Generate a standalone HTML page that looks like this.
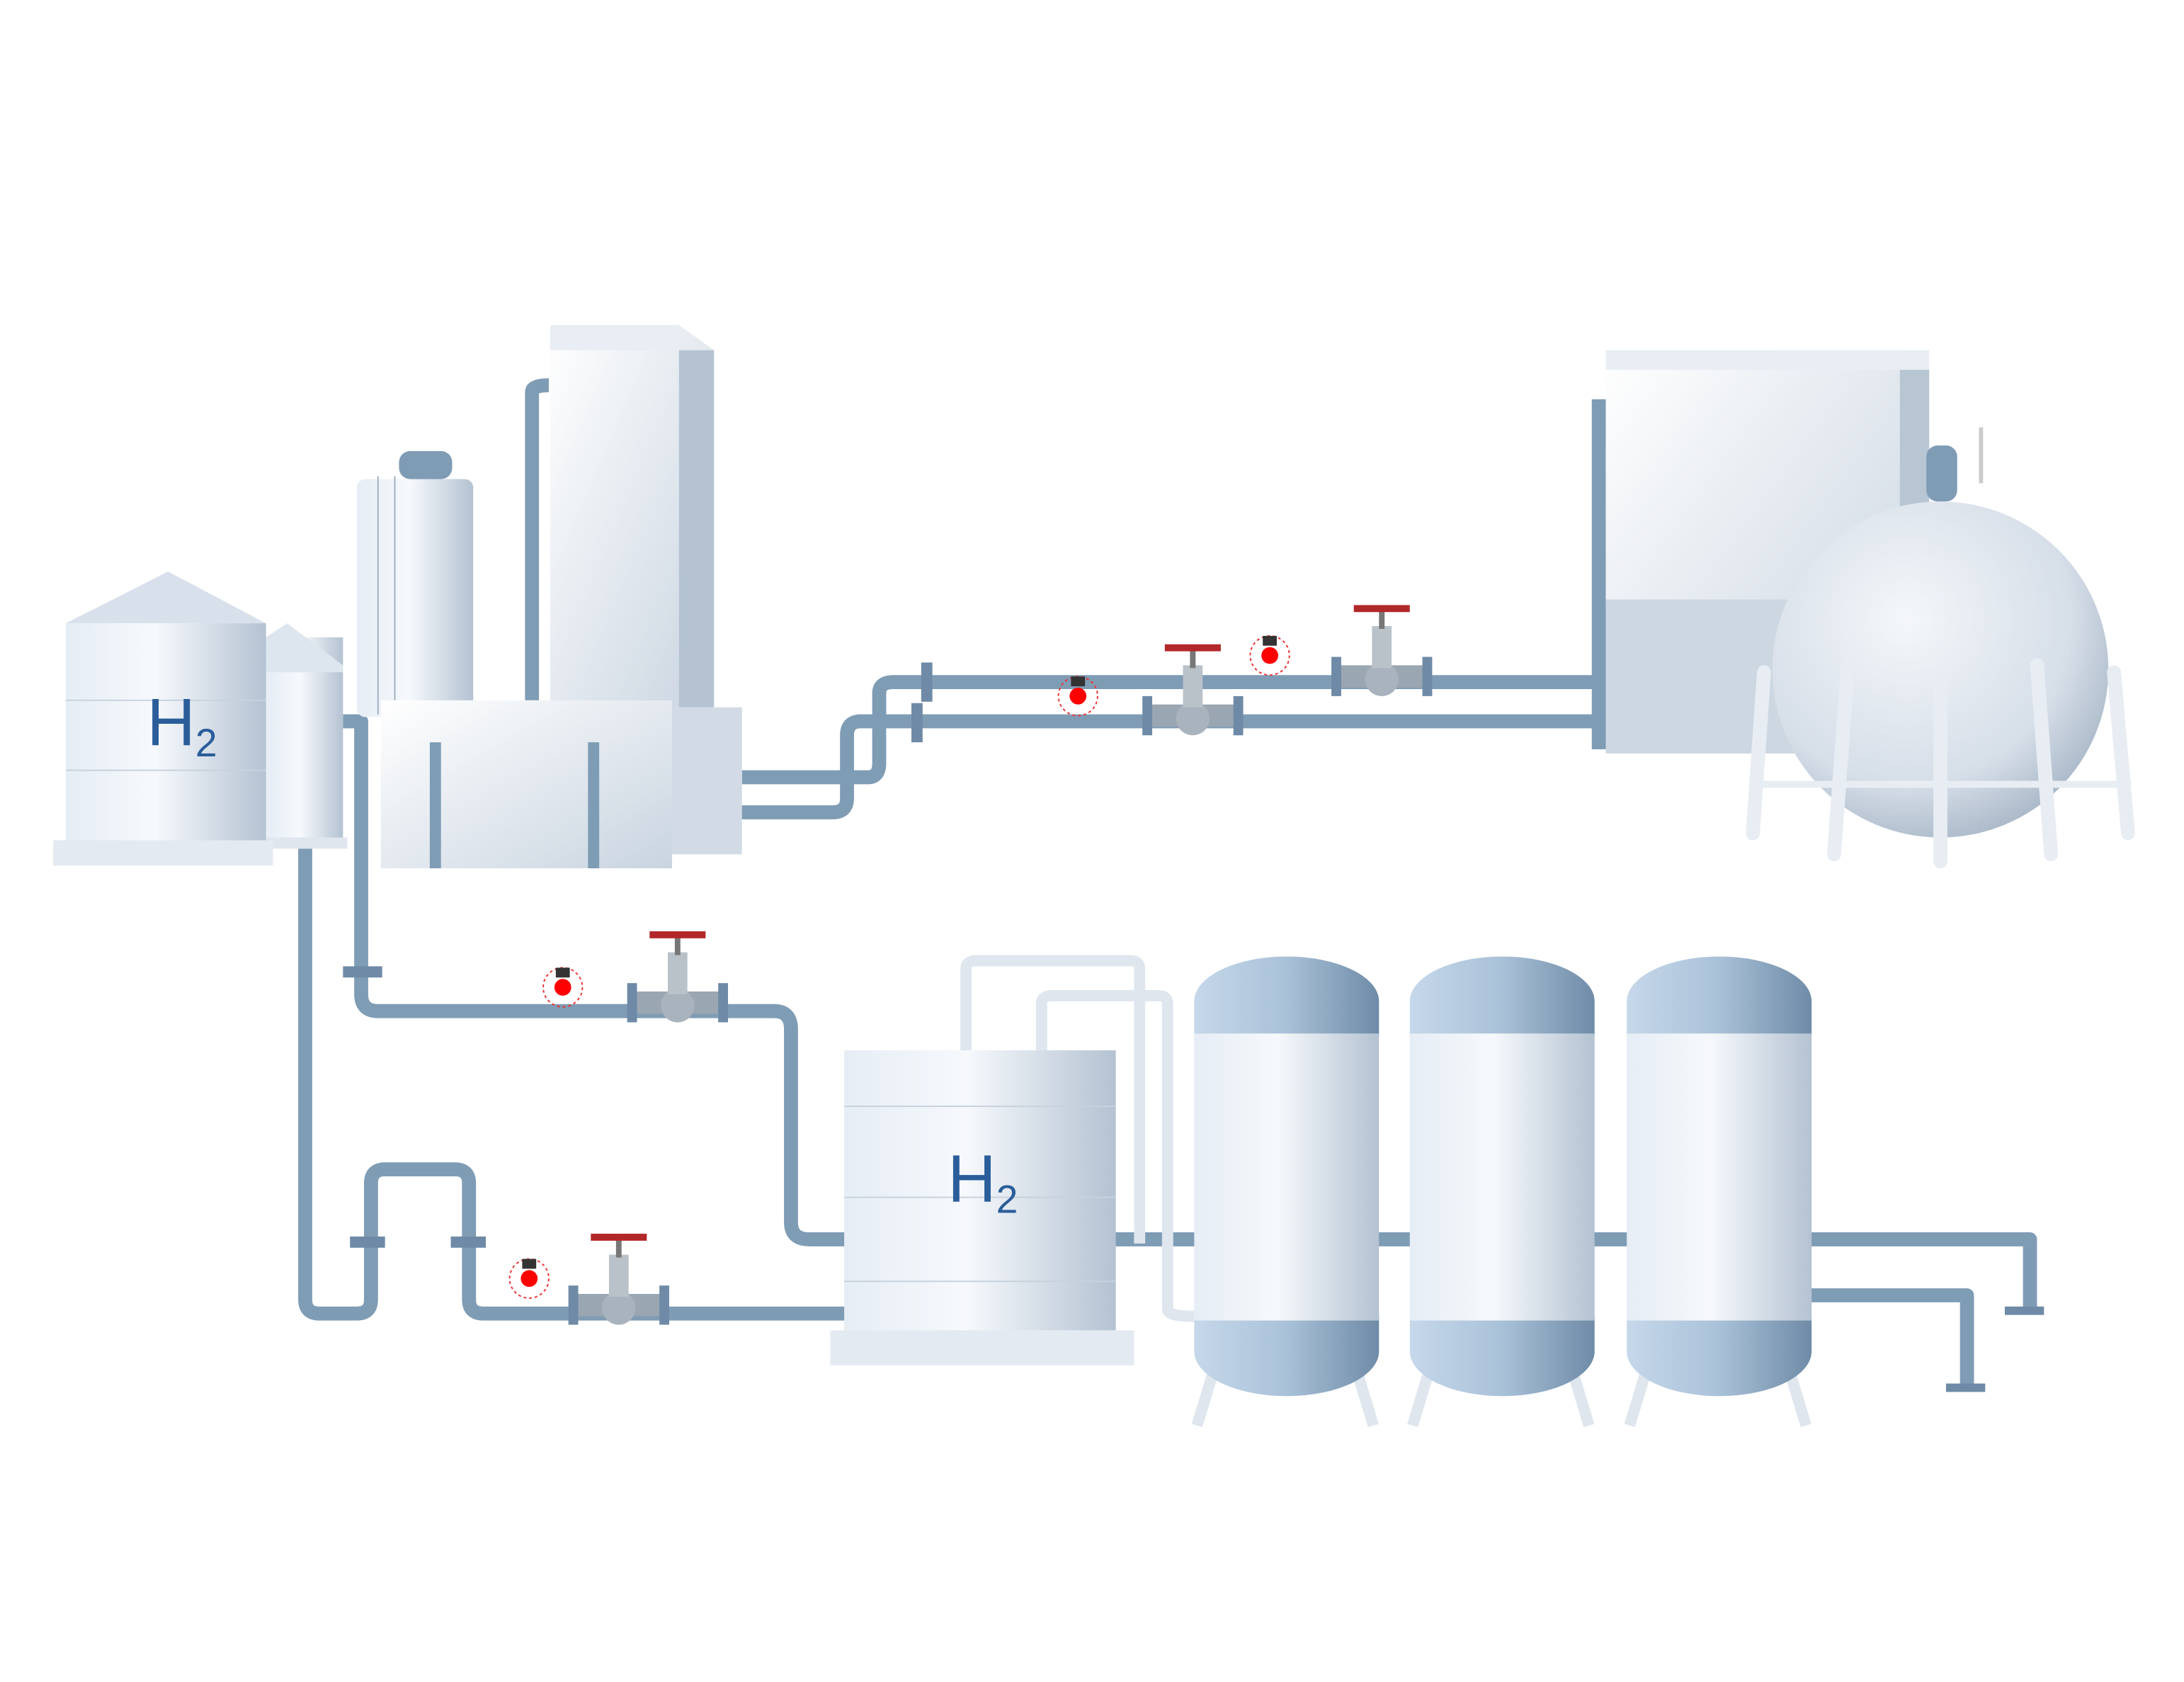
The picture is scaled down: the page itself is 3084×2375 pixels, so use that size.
<!DOCTYPE html>
<html><head><meta charset="utf-8"><style>
html,body{margin:0;padding:0;background:#fff;}
svg{display:block;}
</style></head><body>
<svg width="3084" height="2375" viewBox="0 0 1560 1201" xmlns="http://www.w3.org/2000/svg">
<defs>
<linearGradient id="tank" x1="0" x2="1"><stop offset="0" stop-color="#e6edf5"/><stop offset="0.45" stop-color="#f6f9fc"/><stop offset="1" stop-color="#b4c2d2"/></linearGradient>
<linearGradient id="box" x1="0" x2="1" y1="0" y2="1"><stop offset="0" stop-color="#ffffff"/><stop offset="1" stop-color="#c9d4e0"/></linearGradient>
<linearGradient id="dome" x1="0" x2="1"><stop offset="0" stop-color="#c6d8ea"/><stop offset="0.5" stop-color="#a9c1d8"/><stop offset="1" stop-color="#6f8ba7"/></linearGradient>
<radialGradient id="sph" cx="0.4" cy="0.35" r="0.7"><stop offset="0" stop-color="#f4f7fa"/><stop offset="0.7" stop-color="#d6dee8"/><stop offset="1" stop-color="#a7b6c6"/></radialGradient>
<g id="valve">
<rect x="-32" y="-12" width="64" height="16" fill="#9aa6b2"/>
<rect x="-36" y="-18" width="7" height="28" fill="#6e8aa6"/><rect x="29" y="-18" width="7" height="28" fill="#6e8aa6"/>
<circle cx="0" cy="-2" r="12" fill="#a9b3bd"/>
<rect x="-7" y="-40" width="14" height="30" fill="#b9c1c9"/>
<rect x="-2" y="-52" width="4" height="14" fill="#777"/>
<rect x="-20" y="-55" width="40" height="5" fill="#b2282a"/>
</g>
<g id="sens"><circle r="14" fill="none" stroke="#e33" stroke-dasharray="2 2"/><circle r="6" fill="#f00"/><rect x="-5" y="-14" width="10" height="7" fill="#333"/></g>
</defs>
<g fill="none" stroke="#7f9cb5" stroke-width="10" stroke-linejoin="round">
<path d="M380,500 V280 Q380,275 392,275"/>
<path d="M1142,535 V285"/>
<path d="M480,580 H595 Q605,580 605,570 V525 Q605,515 615,515 H1270"/>
<path d="M530,555 H620 Q628,555 628,545 V495 Q628,487 638,487 H1145"/>
<path d="M195,575 H218 V928 Q218,938 228,938 H255 Q265,938 265,928 V845 Q265,835 275,835 H325 Q335,835 335,845 V928 Q335,938 345,938 H605"/>
<path d="M245,515 H258 V710 Q258,722 270,722 H553 Q565,722 565,735 V873 Q565,885 578,885 H605"/>
<path d="M795,885 H1450 V935"/>
<path d="M1290,925 H1405 V990"/>
</g>
<g fill="none" stroke="#dfe6ee" stroke-width="8">
<path d="M690,752 V692 Q690,686 697,686 H808 Q814,686 814,692 V888"/>
<path d="M744,752 V717 Q744,711 751,711 H828 Q834,711 834,717 V935 Q834,940 853,940"/>
</g>
<g fill="#6e8aa6">
<rect x="1432" y="933" width="28" height="6"/><rect x="1390" y="988" width="28" height="6"/>
<rect x="245" y="690" width="28" height="8"/><rect x="250" y="883" width="25" height="8"/><rect x="322" y="883" width="25" height="8"/>
<rect x="658" y="473" width="8" height="28"/><rect x="651" y="502" width="8" height="28"/>
</g>
<!-- left tanks -->
<rect x="190" y="455" width="55" height="145" fill="url(#tank)"/>
<polygon points="190,455 205,445 245,475 245,480 190,480" fill="#dde5ee"/>
<rect x="186" y="598" width="62" height="8" fill="#dfe6ee"/>
<polygon points="47,445 120,408 190,445" fill="#d8e1eb"/>
<rect x="47" y="445" width="143" height="155" fill="url(#tank)"/>
<g stroke="#c7d2de"><line x1="47" y1="500" x2="190" y2="500"/><line x1="47" y1="550" x2="190" y2="550"/></g>
<rect x="38" y="600" width="157" height="18" fill="#e4eaf1"/>
<text x="130" y="532" text-anchor="middle" font-family="Liberation Sans, sans-serif" font-size="48" fill="#2a5d9a">H<tspan font-size="28" dy="8">2</tspan></text>
<!-- column -->
<rect x="285" y="322" width="38" height="20" rx="8" fill="#7f9cb5"/>
<rect x="255" y="342" width="83" height="170" rx="6" fill="url(#tank)"/>
<line x1="270" y1="340" x2="270" y2="510" stroke="#a0b0c0"/><line x1="282" y1="340" x2="282" y2="510" stroke="#a0b0c0"/>
<!-- tall box -->
<polygon points="393,232 485,232 510,250 510,505 393,505" fill="url(#box)"/>
<rect x="485" y="250" width="25" height="255" fill="#b4c2d2"/>
<rect x="393" y="232" width="92" height="18" fill="#e9eef4"/>
<!-- low box -->
<rect x="480" y="505" width="50" height="105" fill="#d2dbe5"/>
<rect x="272" y="500" width="208" height="120" fill="url(#box)"/>
<rect x="307" y="530" width="8" height="90" fill="#7f9cb5"/><rect x="420" y="530" width="8" height="90" fill="#7f9cb5"/>
<!-- right box -->
<rect x="1147" y="250" width="210" height="288" fill="url(#box)"/>
<rect x="1357" y="262" width="21" height="276" fill="#b8c5d3"/>
<rect x="1147" y="250" width="231" height="14" fill="#e9eef4"/>
<rect x="1147" y="428" width="210" height="110" fill="#cdd7e2"/>
<!-- sphere -->
<rect x="1376" y="318" width="22" height="40" rx="8" fill="#7f9cb5"/>
<line x1="1415" y1="305" x2="1415" y2="345" stroke="#ccc" stroke-width="3"/>
<circle cx="1386" cy="478" r="120" fill="url(#sph)"/>
<g stroke="#e8edf3" stroke-width="10" stroke-linecap="round">
<line x1="1260" y1="480" x2="1252" y2="595"/><line x1="1320" y1="475" x2="1310" y2="610"/><line x1="1386" y1="480" x2="1386" y2="615"/><line x1="1455" y1="475" x2="1465" y2="610"/><line x1="1510" y1="480" x2="1520" y2="595"/>
<line x1="1255" y1="560" x2="1520" y2="560" stroke-width="5"/>
</g>
<!-- middle tank -->
<rect x="603" y="750" width="194" height="200" fill="url(#tank)"/>
<g stroke="#c7d2de"><line x1="603" y1="790" x2="797" y2="790"/><line x1="603" y1="855" x2="797" y2="855"/><line x1="603" y1="915" x2="797" y2="915"/></g>
<rect x="593" y="950" width="217" height="25" fill="#e4eaf1"/>
<text x="702" y="858" text-anchor="middle" font-family="Liberation Sans, sans-serif" font-size="48" fill="#2a5d9a">H<tspan font-size="28" dy="8">2</tspan></text>
<!-- vessels -->
<g id="v1">
<g stroke="#dfe6ee" stroke-width="8"><line x1="868" y1="975" x2="855" y2="1018"/><line x1="968" y1="975" x2="981" y2="1018"/></g>
<path d="M853,940 V965 A66,32 0 0 0 985,965 V940 Z" fill="url(#dome)"/>
<path d="M853,740 V715 A66,32 0 0 1 985,715 V740 Z" fill="url(#dome)"/>
<rect x="853" y="738" width="132" height="205" fill="url(#tank)"/>
</g>
<use href="#v1" x="154"/><use href="#v1" x="309"/>
<!-- valves and sensors -->
<use href="#valve" x="484" y="720"/><use href="#valve" x="852" y="515"/><use href="#valve" x="987" y="487"/><use href="#valve" x="442" y="936"/>
<use href="#sens" x="402" y="705"/><use href="#sens" x="770" y="497"/><use href="#sens" x="907" y="468"/><use href="#sens" x="378" y="913"/>
</svg>
</body></html>
